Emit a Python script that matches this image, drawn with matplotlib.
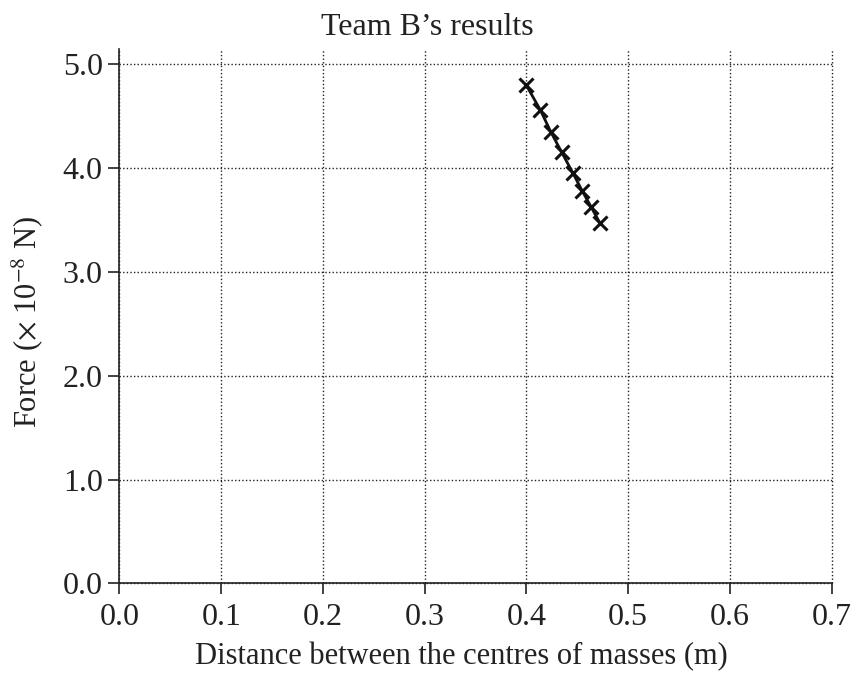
import matplotlib
matplotlib.use("Agg")
import matplotlib.pyplot as plt

# data
distance = [0.400, 0.4136, 0.4238, 0.4346, 0.4454, 0.4547, 0.4634, 0.4723]
force = [4.790, 4.555, 4.346, 4.148, 3.952, 3.778, 3.624, 3.465]

xticks = [0.0, 0.1, 0.2, 0.3, 0.4, 0.5, 0.6, 0.7]
yticks = [0.0, 1.0, 2.0, 3.0, 4.0, 5.0]

plt.rcParams['font.family'] = ['Liberation Serif', 'DejaVu Serif']
plt.rcParams['mathtext.fontset'] = 'stix'

fig = plt.figure(figsize=(8.54, 6.73), dpi=100)
ax = fig.add_axes([0.1399, 0.1330, 0.8340, 0.7942])

ax.plot(distance, force, color='#111111', lw=2.0, marker='x', ms=10, mew=2.2, zorder=3)

ax.set_xlim(0, 0.7)
ax.set_ylim(0, 5.141)
ax.set_xticks(xticks)
ax.set_yticks(yticks)
ax.set_xticklabels(['%.1f' % t for t in xticks])
ax.set_yticklabels(['%.1f' % t for t in yticks])
ax.grid(True, linestyle=(0, (1, 1.6)), color='#222222', lw=1.0)
ax.set_axisbelow(True)
# keep the gridline on the last tick (0.7) from being cut in half
for gl in ax.get_xgridlines() + ax.get_ygridlines():
    gl.set_clip_on(False)

for s in ['top', 'right']:
    ax.spines[s].set_visible(False)
for s in ['left', 'bottom']:
    ax.spines[s].set_linewidth(1.2)
    ax.spines[s].set_color('#222222')
ax.tick_params(direction='out', length=8, width=1.2, labelsize=23, pad=4, colors='#222222')
ax.tick_params(axis='x', pad=6)

ax.set_xlabel('Distance between the centres of masses (m)', fontsize=22, color='#222222')
ax.xaxis.set_label_coords(0.48, -0.110)
ax.set_ylabel(r'Force ($\times$ 10$^{-8}$ N)', fontsize=22, color='#222222')
ax.yaxis.set_label_coords(-0.105, 0.49)

fig.text(0.5, 0.948, 'Team B\u2019s results', ha='center', va='baseline', fontsize=23, color='#222222')

fig.savefig('out.png', dpi=100)
